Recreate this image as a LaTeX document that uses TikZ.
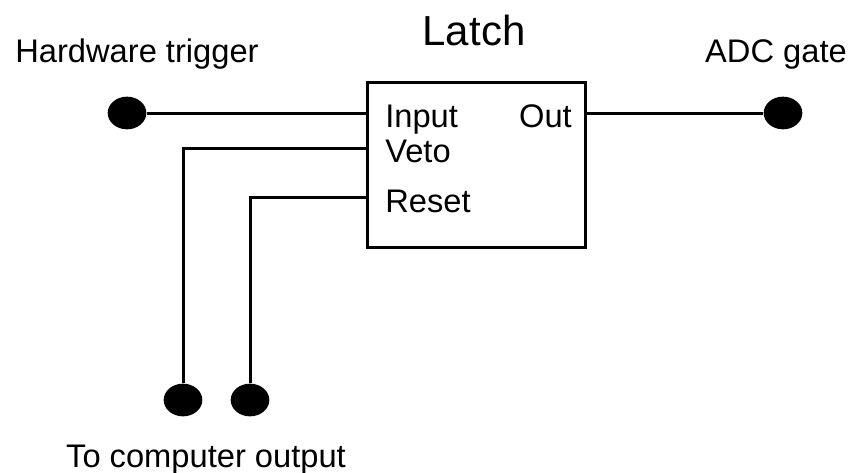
\documentclass[tikz,border=0pt]{standalone}
\usepackage{fontspec}
\setmainfont{Liberation Sans}
\usetikzlibrary{shapes.geometric,positioning}

\begin{document}
\begin{tikzpicture}[x=0.75pt,y=-0.75pt,
    wire/.style={line width=2.25pt},
    dot/.style={ellipse,fill=black,inner sep=0pt,minimum width=29pt,minimum height=24.5pt},
    lbl/.style={anchor=base,inner sep=0pt,font=\fontsize{24.5}{29}\selectfont},
    pin/.style={anchor=base west,inner sep=0pt,font=\fontsize{24.5}{29}\selectfont}]
    \useasboundingbox (0,0) rectangle (855,472);

    % latch box
    \node[draw,wire,inner sep=0pt,minimum width=163.5pt,minimum height=123.75pt] (latch) at (476,164.5) {};
    \node[lbl,font=\fontsize{31.5}{36}\selectfont] (title) at (474,45) {Latch};

    % pins inside the box
    \node[pin] (input) at (385,127) {Input};
    \node[pin] (veto) at (385,162) {Veto};
    \node[pin] (reset) at (385,212) {Reset};
    \node[pin,anchor=base east] (out) at (572,127) {Out};

    % terminals
    \node[dot] (trig) at (127,113) {};
    \node[dot] (adc) at (783,113) {};
    \node[dot] (vetoend) at (183,400) {};
    \node[dot] (resetend) at (250,400) {};

    % wires
    \draw[wire] (trig) -- (trig -| latch.west);
    \draw[wire] (latch.east |- adc) -- (adc);
    \coordinate (vetoin) at (367,148);
    \coordinate (resetin) at (367,197);
    \draw[wire] (vetoin) -| (vetoend);
    \draw[wire] (resetin) -| (resetend);

    % terminal labels
    \node[lbl] (triglbl) at (137,62) {Hardware trigger};
    \node[lbl] (adclbl) at (776,62) {ADC gate};
    \node[lbl] (pclbl) at (206,467) {To computer output};
\end{tikzpicture}
\end{document}
